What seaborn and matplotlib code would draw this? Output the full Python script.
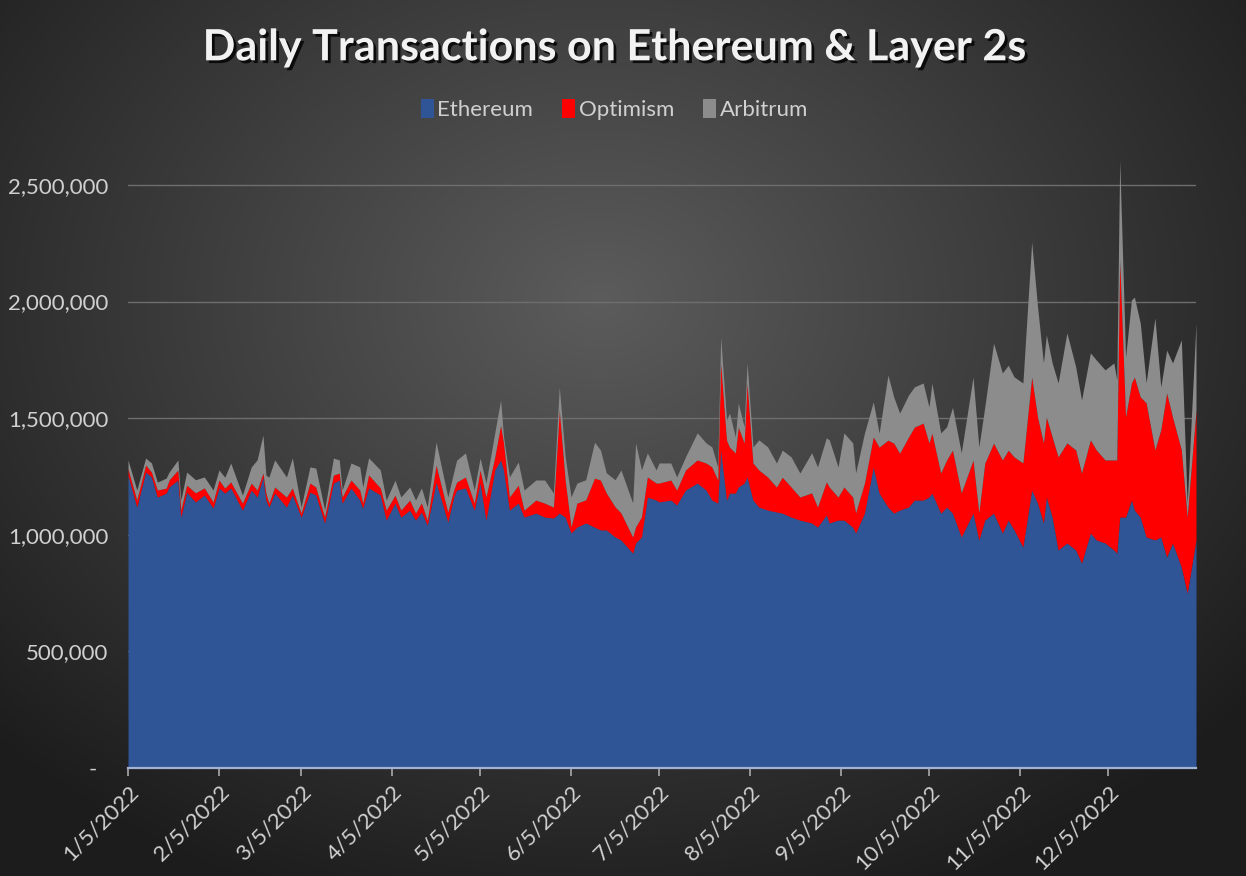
import matplotlib
matplotlib.use("Agg")
import matplotlib.pyplot as plt
import matplotlib.patheffects as pe
import matplotlib.ticker as mticker
import numpy as np
import pandas as pd
import seaborn as sns

# days after 1/5/2022, daily transactions in thousands
start_date = "2022-01-05"
day = [0, 3, 6, 8, 10, 13, 14, 17, 18, 20, 23, 26, 29, 31, 33, 35, 39, 42, 44, 46,
       47, 48, 50, 54, 56, 59, 62, 64, 67, 70, 72, 73, 76, 79, 80, 82, 86, 88, 91, 93,
       96, 98, 100, 102, 105, 109, 111, 112, 115, 118, 120, 122, 125, 127, 128, 130, 133, 135, 139, 142,
       145, 147, 149, 151, 153, 156, 159, 161, 163, 166, 168, 172, 173, 175, 177, 180, 181, 185, 187, 190,
       194, 197, 199, 201, 202, 204, 205, 207, 208, 210, 211, 213, 215, 218, 221, 223, 226, 229, 233, 235,
       238, 239, 242, 244, 247, 248, 251, 254, 256, 259, 261, 263, 266, 268, 271, 273, 274, 277, 279, 281,
       284, 288, 290, 292, 295, 298, 300, 302, 305, 308, 310, 312, 313, 315, 317, 320, 323, 325, 328, 330,
       333, 336, 337, 338, 340, 342, 343, 345, 347, 350, 352, 354, 356, 359, 361, 364]
ethereum = [1256, 1119, 1269, 1248, 1162, 1179, 1205, 1235, 1076, 1183, 1141, 1171, 1115, 1201, 1179, 1201, 1106, 1192, 1162, 1248,
            1149, 1119, 1179, 1119, 1171, 1076, 1183, 1171, 1051, 1222, 1235, 1136, 1201, 1149, 1115, 1201, 1171, 1063, 1136, 1076,
            1106, 1063, 1098, 1042, 1226, 1055, 1162, 1192, 1201, 1106, 1222, 1063, 1278, 1321, 1278, 1106, 1136, 1076, 1093, 1076,
            1072, 1093, 1076, 1008, 1033, 1051, 1033, 1021, 1021, 991, 978, 922, 965, 991, 1162, 1149, 1141, 1149, 1128, 1192,
            1222, 1192, 1149, 1136, 1364, 1149, 1179, 1179, 1205, 1222, 1248, 1149, 1119, 1106, 1098, 1093, 1076, 1063, 1051, 1033,
            1085, 1051, 1063, 1063, 1033, 1008, 1093, 1291, 1179, 1119, 1093, 1106, 1119, 1149, 1149, 1162, 1179, 1093, 1119, 1093,
            991, 1093, 978, 1063, 1093, 1008, 1063, 1021, 948, 1192, 1136, 1051, 1162, 1076, 935, 965, 935, 879, 1008, 978,
            965, 935, 922, 1076, 1076, 1149, 1106, 1076, 991, 978, 991, 905, 965, 862, 750, 978]
optimism = [26, 30, 30, 21, 30, 21, 30, 43, 30, 30, 39, 30, 26, 34, 21, 26, 30, 30, 30, 17,
            30, 17, 26, 43, 30, 17, 39, 34, 26, 34, 30, 26, 34, 43, 21, 56, 30, 43, 34, 30,
            43, 30, 39, 21, 73, 43, 30, 34, 47, 30, 56, 99, 56, 150, 116, 56, 77, 30, 56, 60,
            47, 442, 159, 26, 103, 99, 210, 214, 159, 129, 116, 69, 69, 86, 86, 73, 81, 86, 64, 86,
            99, 116, 142, 99, 373, 257, 197, 172, 257, 172, 403, 159, 159, 142, 107, 154, 129, 99, 129, 86,
            142, 154, 99, 142, 129, 86, 129, 129, 197, 287, 300, 244, 300, 313, 330, 232, 257, 172, 202, 270,
            189, 227, 116, 244, 300, 313, 300, 313, 360, 485, 369, 343, 343, 343, 399, 429, 429, 386, 399, 386,
            356, 386, 399, 1102, 429, 502, 570, 515, 575, 386, 459, 703, 540, 502, 326, 557]
arbitrum = [39, 43, 30, 39, 34, 43, 34, 43, 43, 56, 56, 47, 51, 43, 47, 81, 34, 69, 129, 163,
            77, 111, 116, 86, 129, 26, 69, 81, 30, 73, 56, 30, 73, 99, 69, 73, 77, 43, 64, 56,
            56, 56, 64, 56, 99, 64, 77, 94, 103, 56, 51, 60, 103, 107, 26, 86, 99, 86, 86, 99,
            60, 99, 99, 129, 86, 86, 154, 129, 86, 116, 184, 146, 360, 202, 103, 56, 86, 73, 56, 56,
            116, 86, 86, 56, 111, 86, 146, 69, 103, 69, 86, 69, 129, 129, 103, 116, 129, 103, 172, 172,
            189, 202, 129, 232, 232, 172, 214, 150, 60, 279, 197, 172, 180, 172, 172, 154, 214, 172, 142, 184,
            172, 356, 283, 240, 429, 373, 364, 343, 343, 579, 472, 343, 352, 317, 317, 472, 356, 313, 373, 386,
            386, 416, 343, 429, 257, 356, 343, 317, 86, 566, 184, 184, 232, 472, 60, 373]

series_names = ["Ethereum", "Optimism", "Arbitrum"]
series_colors = ["#2f5597", "#ff0000", "#8c8c8c"]
tick_months = list(range(1, 13))

df = pd.DataFrame({
    "date": pd.to_datetime(start_date) + pd.to_timedelta(day, unit="D"),
    "Ethereum": np.array(ethereum) * 1000,
    "Optimism": np.array(optimism) * 1000,
    "Arbitrum": np.array(arbitrum) * 1000,
})

sns.set_theme(style="dark")
plt.rcParams["font.family"] = ["Lato", "DejaVu Sans"]
label_color = "#d0d0d0"

fig = plt.figure(figsize=(12.46, 8.76), dpi=100)

# radial background gradient
bg = fig.add_axes([0, 0, 1, 1], zorder=0)
yy, xx = np.mgrid[0:876, 0:1246]
r = np.sqrt(((xx - 600) / 900.0) ** 2 + ((yy - 300) / 700.0) ** 2)
shade = np.clip(0.36 - 0.27 * r, 0.11, 0.36)
bg.imshow(np.dstack([shade, shade, shade]), aspect="auto", extent=[0, 1, 0, 1])
bg.axis("off")

ax = fig.add_axes([128 / 1246, 1 - 768 / 876, (1196 - 128) / 1246, (768 - 150) / 876], zorder=1)
ax.patch.set_alpha(0)

ax.stackplot(df["date"], df["Ethereum"], df["Optimism"], df["Arbitrum"],
             colors=series_colors, labels=series_names, linewidth=0)

ax.set_ylim(0, 2650000)
ax.set_xlim(pd.to_datetime(start_date), pd.to_datetime(start_date) + pd.Timedelta(days=364))
ax.set_yticks(np.arange(0, 2500001, 500000))
ax.yaxis.set_major_formatter(mticker.FuncFormatter(lambda v, p: "-  " if v == 0 else f"{v:,.0f}"))
ax.grid(axis="y", color="#6e6e6e", linewidth=1)
ax.grid(axis="x", visible=False)

ticks = [pd.Timestamp(2022, m, 5) for m in tick_months]
ax.set_xticks(ticks)
ax.set_xticklabels([f"{m}/5/2022" for m in tick_months], rotation=45, ha="right",
                   rotation_mode="anchor")

ax.tick_params(axis="x", colors=label_color, labelsize=16, length=6, width=1.2,
               direction="out", bottom=True, pad=4)
ax.tick_params(axis="x", which="major", color="#a9a9a9")
ax.tick_params(axis="y", colors=label_color, labelsize=16, length=0, pad=14)

for s in ["top", "right", "left"]:
    ax.spines[s].set_visible(False)
ax.spines["bottom"].set_color("#a3b3d3")
ax.spines["bottom"].set_linewidth(1.6)

leg = ax.legend(loc="center", bbox_to_anchor=(0.493, 0.875), bbox_transform=fig.transFigure,
                ncol=3, frameon=False, fontsize=16, handlelength=0.6, handleheight=0.9,
                handletextpad=0.15, columnspacing=1.3)
for t in leg.get_texts():
    t.set_color(label_color)

fig.text(0.493, 0.946, "Daily Transactions on Ethereum & Layer 2s", ha="center", va="center",
         fontsize=31, fontweight="bold", color="#f2f2f2",
         path_effects=[pe.withSimplePatchShadow(offset=(2, -2), shadow_rgbFace="black", alpha=0.8)])

fig.savefig("out.png", dpi=100)
